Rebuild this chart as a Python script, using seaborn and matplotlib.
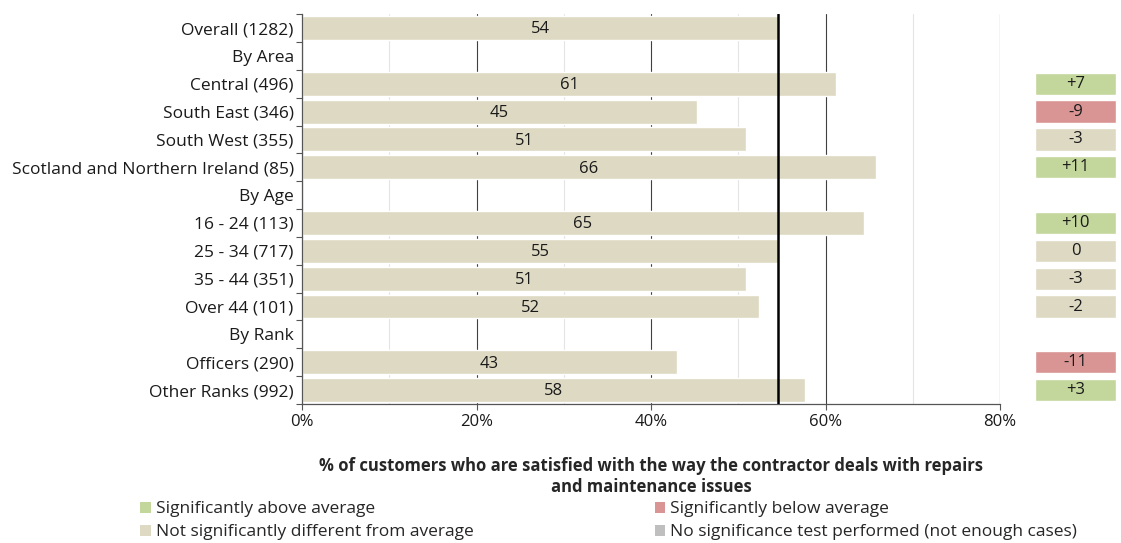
import matplotlib
matplotlib.use("Agg")
import matplotlib.pyplot as plt
from matplotlib.patches import Patch
from matplotlib.ticker import MultipleLocator, FixedLocator, PercentFormatter
import pandas as pd
import seaborn as sns

sns.set_theme(style="white")
plt.rcParams["font.family"] = ["Open Sans", "DejaVu Sans"]

# data
categories = [
    "Overall (1282)", "By Area", "Central (496)", "South East (346)", "South West (355)",
    "Scotland and Northern Ireland (85)", "By Age", "16 - 24 (113)", "25 - 34 (717)",
    "35 - 44 (351)", "Over 44 (101)", "By Rank", "Officers (290)", "Other Ranks (992)",
]
values = [54.6, None, 61.2, 45.3, 50.9, 65.8, None, 64.4, 54.6, 50.9, 52.4, None, 43.0, 57.7]
value_labels = ["54", "", "61", "45", "51", "66", "", "65", "55", "51", "52", "", "43", "58"]
diffs = ["", "", "+7", "-9", "-3", "+11", "", "+10", "0", "-3", "-2", "", "-11", "+3"]
status = ["", "", "above", "below", "same", "above", "", "above", "same", "same", "same", "", "below", "above"]
overall_mean = 54.6

BAR = "#DDD9C3"
status_colors = {"above": "#C3D69B", "below": "#D99594", "same": "#DDD9C3", "none": "#BFBFBF"}

df = pd.DataFrame({"group": categories, "pct": values})

fig = plt.figure(figsize=(11.21, 5.43), dpi=100)
ax = fig.add_axes([0.2694, 0.256, 0.6227, 0.718])

sns.barplot(data=df, x="pct", y="group", order=categories, color=BAR, saturation=1,
            width=0.86, orient="h", ax=ax, zorder=2)

for i, (v, lab) in enumerate(zip(values, value_labels)):
    if v is not None:
        ax.text(v / 2, i + 0.05, lab, ha="center", va="center", fontsize=12,
                color="#1a1a1a", zorder=4)

ax.axvline(overall_mean, color="black", lw=1.8, zorder=5)

ax.set_xlim(0, 80)
ax.set_ylim(len(categories) - 0.5, -0.5)
ax.xaxis.set_major_locator(MultipleLocator(20))
ax.xaxis.set_minor_locator(MultipleLocator(10))
ax.xaxis.set_major_formatter(PercentFormatter(decimals=0))
ax.yaxis.set_minor_locator(FixedLocator([i - 0.5 for i in range(len(categories) + 1)]))
ax.grid(axis="x", which="major", color="#404040", lw=0.8, zorder=0)
ax.grid(axis="x", which="minor", color="#E4E4E4", lw=0.8, zorder=0)
ax.set_axisbelow(True)

for s in ("top", "right"):
    ax.spines[s].set_visible(False)
for s in ("left", "bottom"):
    ax.spines[s].set_color("#555555")
    ax.spines[s].set_linewidth(0.9)

ax.tick_params(axis="y", which="major", length=0, pad=6, labelsize=12.5, colors="#1a1a1a")
ax.tick_params(axis="y", which="minor", length=4, width=0.8, color="#555555", left=True)
ax.tick_params(axis="x", which="major", length=4, width=0.8, color="#555555", bottom=True,
               labelsize=12, labelcolor="#1a1a1a", pad=3)
ax.tick_params(axis="x", which="minor", length=0)
ax.set_ylabel("")
ax.set_xlabel("% of customers who are satisfied with the way the contractor deals with repairs\nand maintenance issues",
              fontsize=12, fontweight="bold", labelpad=20, linespacing=1.15)

# significance boxes
ax2 = fig.add_axes([0.9233, 0.256, 0.0723, 0.718])
for i, (d, st) in enumerate(zip(diffs, status)):
    if d:
        ax2.barh(i, 1, height=0.8, color=status_colors[st], left=0)
        ax2.text(0.5, i, d, ha="center", va="center", fontsize=12, color="#1a1a1a")
ax2.set_xlim(0, 1)
ax2.set_ylim(len(categories) - 0.5, -0.5)
ax2.axis("off")

# legend
def handles(keys, texts):
    return [Patch(facecolor=status_colors[k], edgecolor="none", label=t) for k, t in zip(keys, texts)]

common = dict(frameon=False, handlelength=0.6, handleheight=0.6, handletextpad=0.3,
              labelspacing=0.42, borderaxespad=0, borderpad=0, prop={"size": 12.5})
fig.legend(handles=handles(["above", "same"], ["Significantly above average",
                                               "Not significantly different from average"]),
           loc="upper left", bbox_to_anchor=(0.125, 0.077), **common)
fig.legend(handles=handles(["below", "none"], ["Significantly below average",
                                               "No significance test performed (not enough cases)"]),
           loc="upper left", bbox_to_anchor=(0.584, 0.077), **common)

fig.savefig("out.png", dpi=100)
